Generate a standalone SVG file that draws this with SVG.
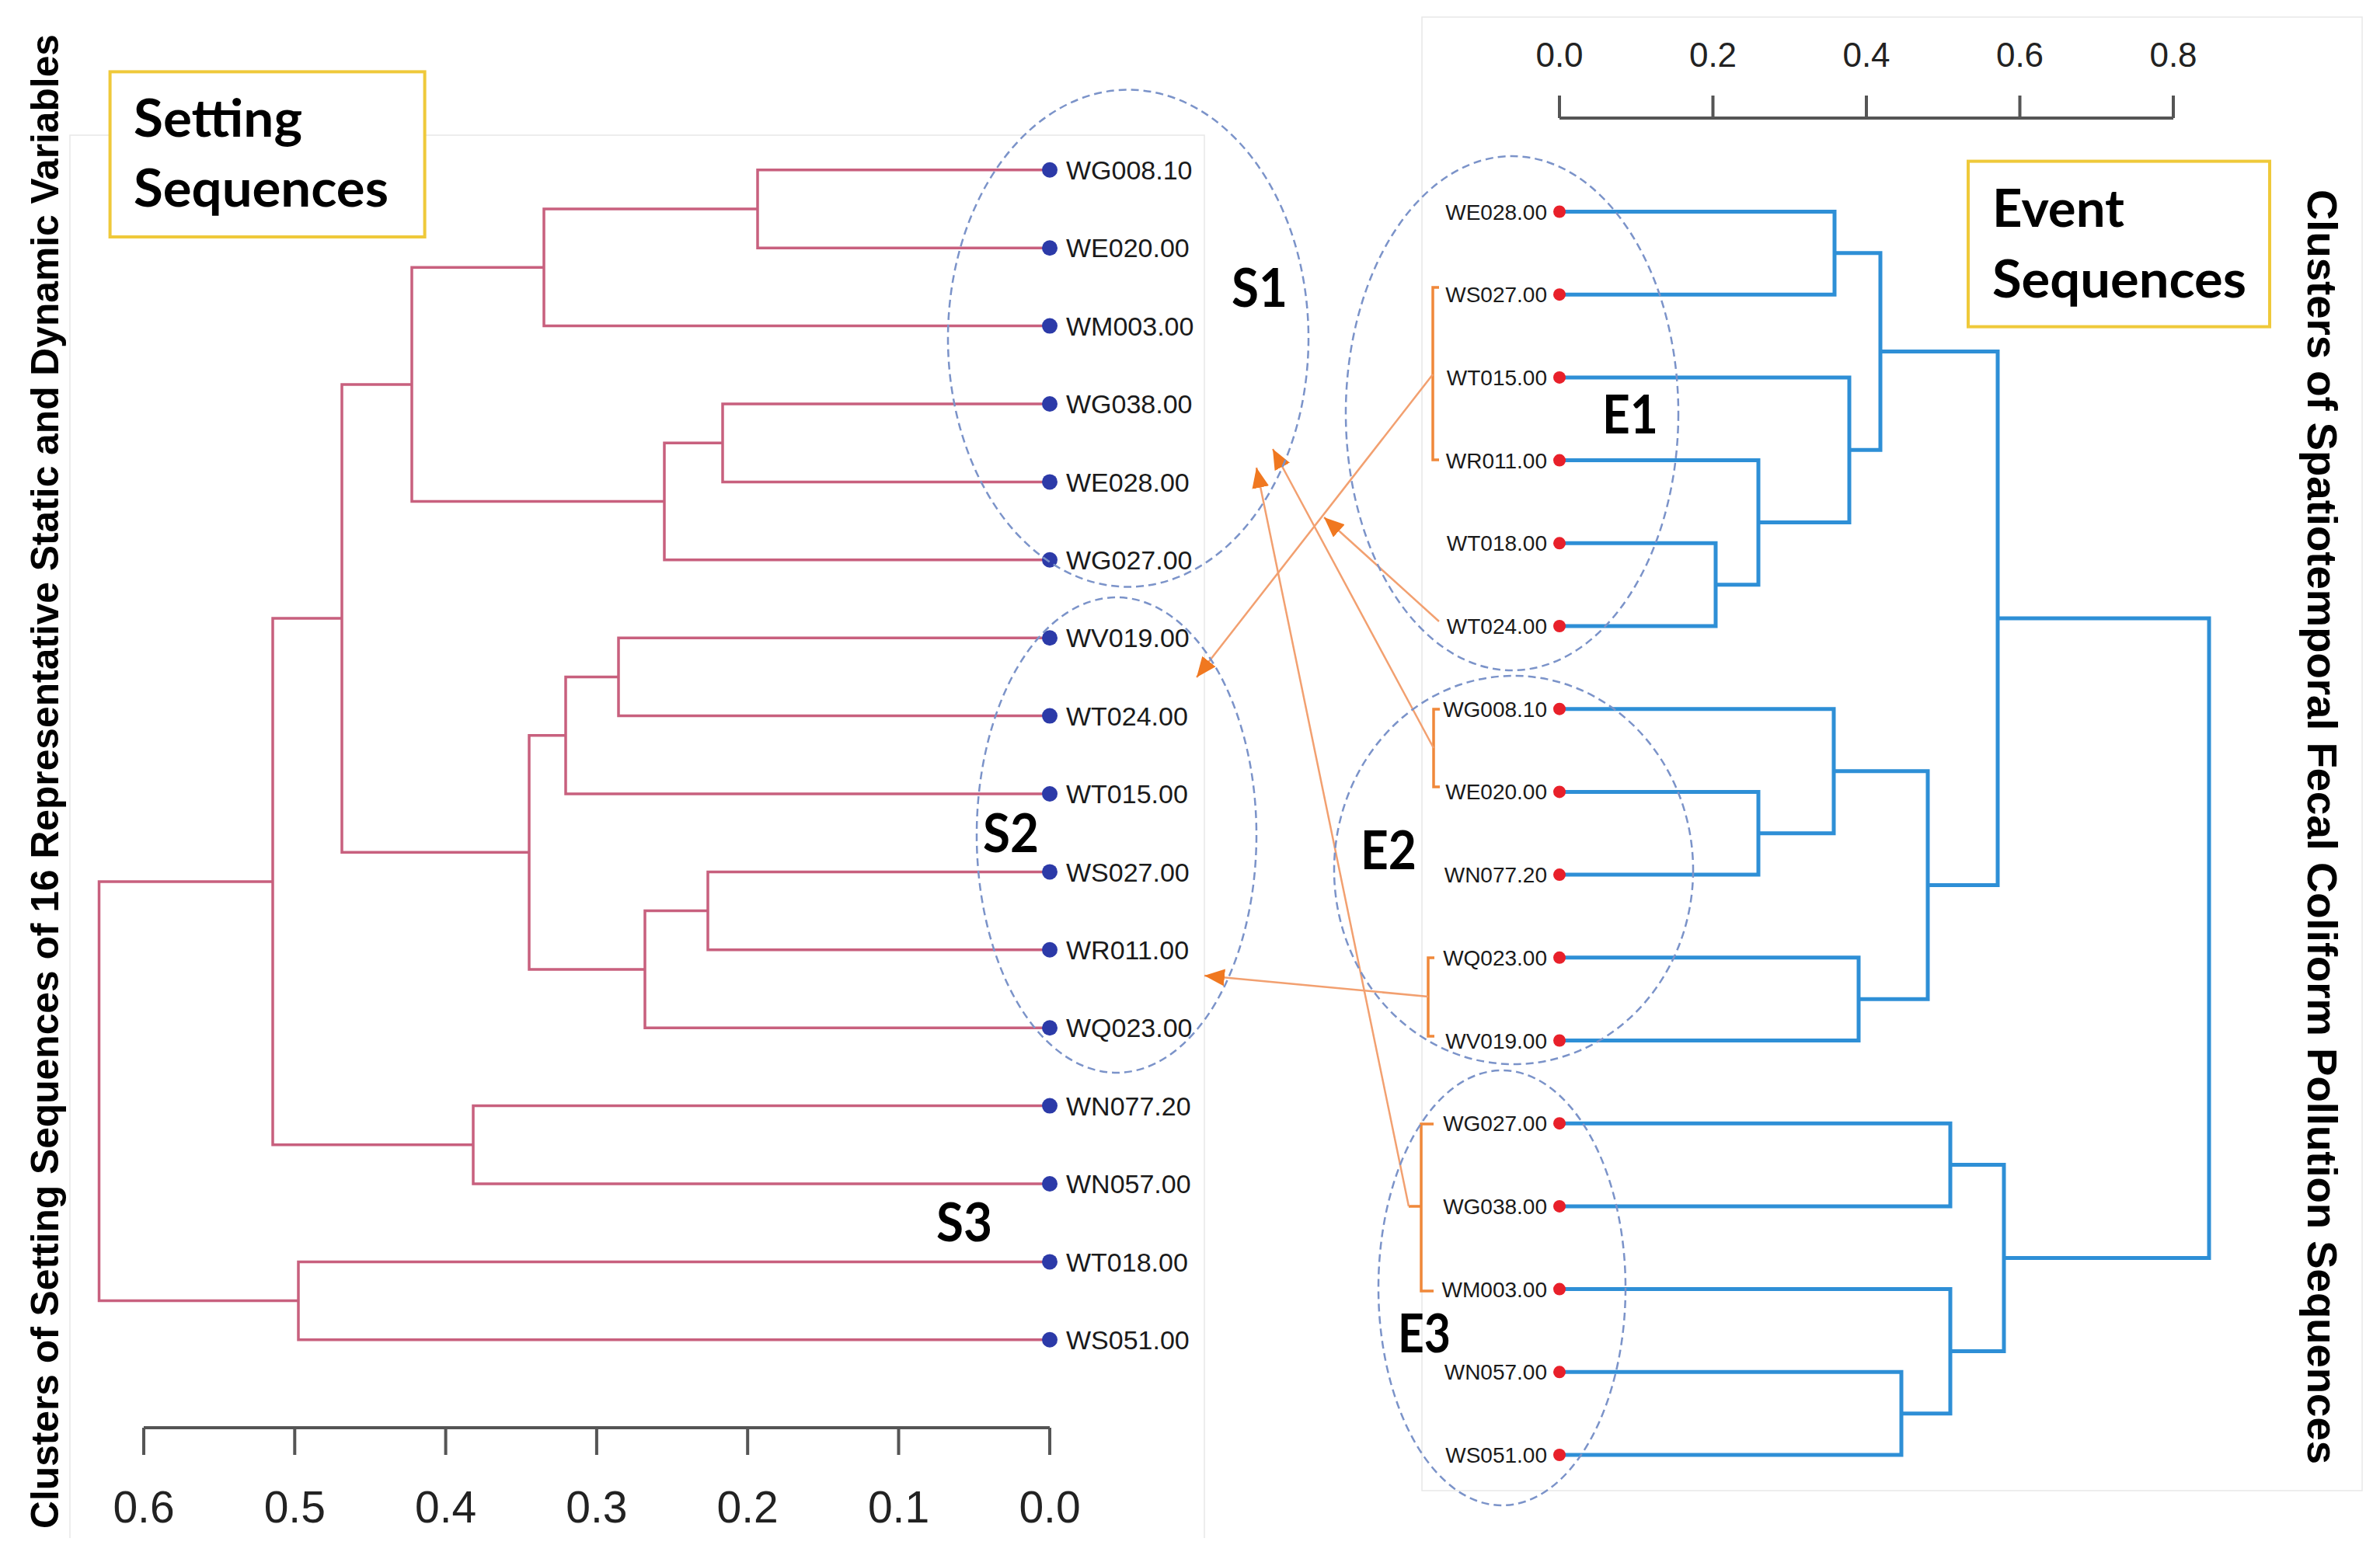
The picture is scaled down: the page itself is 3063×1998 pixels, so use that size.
<svg xmlns="http://www.w3.org/2000/svg" width="3063" height="1998" viewBox="0 0 3063 1998">
<style>
.bg{fill:#ffffff}
.frame{fill:none;stroke:#e8e8e8;stroke-width:1.5}
.pink{fill:none;stroke:#c8607e;stroke-width:3.5}
.blue{fill:none;stroke:#2e8fd6;stroke-width:5}
.axis{fill:none;stroke:#555555;stroke-width:4}
.bdot{fill:#2c3aa8}
.rdot{fill:#e8202a}
.llab{font-family:"Liberation Sans",Arial,sans-serif;font-size:34px;fill:#1a1a1a}
.rlab{font-family:"Liberation Sans",Arial,sans-serif;font-size:28px;fill:#1a1a1a;text-anchor:end}
.axl{font-family:"Liberation Sans",Arial,sans-serif;font-size:57px;fill:#222;text-anchor:middle}
.axr{font-family:"Liberation Sans",Arial,sans-serif;font-size:44px;fill:#222;text-anchor:middle}
.clu{fill:none;stroke:#7b93c9;stroke-width:2.5;stroke-dasharray:10 6}
.big{font-family:Lato,"Open Sans",sans-serif;font-weight:700;font-size:68px;fill:#000}
.boxt{font-family:Lato,"Open Sans",sans-serif;font-weight:700;font-size:66px;fill:#000}
.box{fill:#ffffff;stroke:#efc93a;stroke-width:4}
.title{font-family:"Liberation Sans",Arial,sans-serif;font-weight:700;fill:#000}
.brk{fill:none;stroke:#f0883a;stroke-width:3.5}
.arr{fill:none;stroke:#f2a070;stroke-width:2.5}
</style>
<defs>
<marker id="ah" markerUnits="userSpaceOnUse" markerWidth="28" markerHeight="24" refX="26" refY="11" orient="auto">
<path d="M0,0 L26,11 L0,22 z" fill="#f07820"/>
</marker>
</defs>
<rect class="bg" x="0" y="0" width="3063" height="1998"/>
<g id="frames">
<path class="frame" d="M90 1980 V174 H1550 V1980"/>
<rect class="frame" x="1830" y="22" width="1210" height="1897"/>
</g>

<g id="connectors">
<g id="left-dendrogram">
<path class="pink" d="M1351 218.8 H975 V319.2 H1351"/>
<path class="pink" d="M975 269 H700 V419.6 H1351"/>
<path class="pink" d="M1351 520 H930 V620.4 H1351"/>
<path class="pink" d="M930 570.2 H855 V720.8 H1351"/>
<path class="pink" d="M700 344.3 H530 V645.5 H855"/>
<path class="pink" d="M1351 821.2 H796 V921.6 H1351"/>
<path class="pink" d="M796 871.4 H728 V1022 H1351"/>
<path class="pink" d="M1351 1122.4 H911 V1222.8 H1351"/>
<path class="pink" d="M911 1172.6 H830 V1323.2 H1351"/>
<path class="pink" d="M728 946.7 H681 V1247.9 H830"/>
<path class="pink" d="M530 494.9 H440 V1097.3 H681"/>
<path class="pink" d="M1351 1423.6 H609 V1524 H1351"/>
<path class="pink" d="M440 796.1 H351 V1473.8 H609"/>
<path class="pink" d="M1351 1624.4 H384 V1724.8 H1351"/>
<path class="pink" d="M351 1135 H127.5 V1674.6 H384"/>
</g>
<g id="right-dendrogram">
<path class="blue" d="M2007 272.5 H2361 V379.2 H2007"/>
<path class="blue" d="M2007 699.3 H2208 V806 H2007"/>
<path class="blue" d="M2007 592.6 H2263 V752.65 H2208"/>
<path class="blue" d="M2007 485.9 H2380 V672.6 H2263"/>
<path class="blue" d="M2361 325.85 H2420 V579.25 H2380"/>
<path class="blue" d="M2007 1019.4 H2263 V1126.1 H2007"/>
<path class="blue" d="M2007 912.7 H2360 V1072.75 H2263"/>
<path class="blue" d="M2007 1232.8 H2392 V1339.5 H2007"/>
<path class="blue" d="M2360 992.7 H2481 V1286.15 H2392"/>
<path class="blue" d="M2420 452.55 H2571 V1139.4 H2481"/>
<path class="blue" d="M2007 1446.2 H2510 V1552.9 H2007"/>
<path class="blue" d="M2007 1766.3 H2447 V1873 H2007"/>
<path class="blue" d="M2007 1659.6 H2510 V1819.65 H2447"/>
<path class="blue" d="M2510 1499.55 H2579 V1739.6 H2510"/>
<path class="blue" d="M2571 796 H2843 V1619.6 H2579"/>
</g>
<g id="brackets">
<path class="brk" d="M1852 370 H1844 V592 H1852"/>
<path class="brk" d="M1853 913 H1845 V1013 H1853"/>
<path class="brk" d="M1846 1233 H1838 V1334 H1846"/>
<path class="brk" d="M1845 1447 H1829 V1662 H1845 M1813 1553 H1829"/>
</g>
<g id="arrows">
<path class="arr" d="M1844 482 L1540 872" marker-end="url(#ah)"/>
<path class="arr" d="M1845 963 L1638 578" marker-end="url(#ah)"/>
<path class="arr" d="M1813 1553 L1617 602" marker-end="url(#ah)"/>
<path class="arr" d="M1852 800 L1704 666" marker-end="url(#ah)"/>
<path class="arr" d="M1838 1283 L1550 1256" marker-end="url(#ah)"/>
</g>
</g>

<g id="left-axis">
<path class="axis" d="M185 1838 H1351 M185 1838 V1873 M379.3 1838 V1873 M573.6 1838 V1873 M767.9 1838 V1873 M962.2 1838 V1873 M1156.5 1838 V1873 M1351 1838 V1873"/>
<text class="axl" x="185" y="1960">0.6</text>
<text class="axl" x="379.3" y="1960">0.5</text>
<text class="axl" x="573.6" y="1960">0.4</text>
<text class="axl" x="767.9" y="1960">0.3</text>
<text class="axl" x="962.2" y="1960">0.2</text>
<text class="axl" x="1156.5" y="1960">0.1</text>
<text class="axl" x="1351" y="1960">0.0</text>
</g>
<g id="right-axis">
<path class="axis" d="M2007 152 H2797 M2007 123 V152 M2204.5 123 V152 M2402 123 V152 M2599.5 123 V152 M2797 123 V152"/>
<text class="axr" x="2007" y="86">0.0</text>
<text class="axr" x="2204.5" y="86">0.2</text>
<text class="axr" x="2402" y="86">0.4</text>
<text class="axr" x="2599.5" y="86">0.6</text>
<text class="axr" x="2797" y="86">0.8</text>
</g>

<g id="left-leaves">
<g id="s-WG008.10"><circle class="bdot" cx="1351" cy="218.8" r="10"/><text class="llab" x="1372" y="231">WG008.10</text></g>
<g id="s-WE020.00"><circle class="bdot" cx="1351" cy="319.2" r="10"/><text class="llab" x="1372" y="331.4">WE020.00</text></g>
<g id="s-WM003.00"><circle class="bdot" cx="1351" cy="419.6" r="10"/><text class="llab" x="1372" y="431.8">WM003.00</text></g>
<g id="s-WG038.00"><circle class="bdot" cx="1351" cy="520" r="10"/><text class="llab" x="1372" y="532.2">WG038.00</text></g>
<g id="s-WE028.00"><circle class="bdot" cx="1351" cy="620.4" r="10"/><text class="llab" x="1372" y="632.6">WE028.00</text></g>
<g id="s-WG027.00"><circle class="bdot" cx="1351" cy="720.8" r="10"/><text class="llab" x="1372" y="733">WG027.00</text></g>
<g id="s-WV019.00"><circle class="bdot" cx="1351" cy="821.2" r="10"/><text class="llab" x="1372" y="833.4">WV019.00</text></g>
<g id="s-WT024.00"><circle class="bdot" cx="1351" cy="921.6" r="10"/><text class="llab" x="1372" y="933.8">WT024.00</text></g>
<g id="s-WT015.00"><circle class="bdot" cx="1351" cy="1022" r="10"/><text class="llab" x="1372" y="1034.2">WT015.00</text></g>
<g id="s-WS027.00"><circle class="bdot" cx="1351" cy="1122.4" r="10"/><text class="llab" x="1372" y="1134.6">WS027.00</text></g>
<g id="s-WR011.00"><circle class="bdot" cx="1351" cy="1222.8" r="10"/><text class="llab" x="1372" y="1235">WR011.00</text></g>
<g id="s-WQ023.00"><circle class="bdot" cx="1351" cy="1323.2" r="10"/><text class="llab" x="1372" y="1335.4">WQ023.00</text></g>
<g id="s-WN077.20"><circle class="bdot" cx="1351" cy="1423.6" r="10"/><text class="llab" x="1372" y="1435.8">WN077.20</text></g>
<g id="s-WN057.00"><circle class="bdot" cx="1351" cy="1524" r="10"/><text class="llab" x="1372" y="1536.2">WN057.00</text></g>
<g id="s-WT018.00"><circle class="bdot" cx="1351" cy="1624.4" r="10"/><text class="llab" x="1372" y="1636.6">WT018.00</text></g>
<g id="s-WS051.00"><circle class="bdot" cx="1351" cy="1724.8" r="10"/><text class="llab" x="1372" y="1737">WS051.00</text></g>
</g>

<g id="right-leaves">
<g id="e-WE028.00"><circle class="rdot" cx="2007" cy="272.5" r="8"/><text class="rlab" x="1991" y="282.5">WE028.00</text></g>
<g id="e-WS027.00"><circle class="rdot" cx="2007" cy="379.2" r="8"/><text class="rlab" x="1991" y="389.2">WS027.00</text></g>
<g id="e-WT015.00"><circle class="rdot" cx="2007" cy="485.9" r="8"/><text class="rlab" x="1991" y="495.9">WT015.00</text></g>
<g id="e-WR011.00"><circle class="rdot" cx="2007" cy="592.6" r="8"/><text class="rlab" x="1991" y="602.6">WR011.00</text></g>
<g id="e-WT018.00"><circle class="rdot" cx="2007" cy="699.3" r="8"/><text class="rlab" x="1991" y="709.3">WT018.00</text></g>
<g id="e-WT024.00"><circle class="rdot" cx="2007" cy="806" r="8"/><text class="rlab" x="1991" y="816">WT024.00</text></g>
<g id="e-WG008.10"><circle class="rdot" cx="2007" cy="912.7" r="8"/><text class="rlab" x="1991" y="922.7">WG008.10</text></g>
<g id="e-WE020.00"><circle class="rdot" cx="2007" cy="1019.4" r="8"/><text class="rlab" x="1991" y="1029.4">WE020.00</text></g>
<g id="e-WN077.20"><circle class="rdot" cx="2007" cy="1126.1" r="8"/><text class="rlab" x="1991" y="1136.1">WN077.20</text></g>
<g id="e-WQ023.00"><circle class="rdot" cx="2007" cy="1232.8" r="8"/><text class="rlab" x="1991" y="1242.8">WQ023.00</text></g>
<g id="e-WV019.00"><circle class="rdot" cx="2007" cy="1339.5" r="8"/><text class="rlab" x="1991" y="1349.5">WV019.00</text></g>
<g id="e-WG027.00"><circle class="rdot" cx="2007" cy="1446.2" r="8"/><text class="rlab" x="1991" y="1456.2">WG027.00</text></g>
<g id="e-WG038.00"><circle class="rdot" cx="2007" cy="1552.9" r="8"/><text class="rlab" x="1991" y="1562.9">WG038.00</text></g>
<g id="e-WM003.00"><circle class="rdot" cx="2007" cy="1659.6" r="8"/><text class="rlab" x="1991" y="1669.6">WM003.00</text></g>
<g id="e-WN057.00"><circle class="rdot" cx="2007" cy="1766.3" r="8"/><text class="rlab" x="1991" y="1776.3">WN057.00</text></g>
<g id="e-WS051.00"><circle class="rdot" cx="2007" cy="1873" r="8"/><text class="rlab" x="1991" y="1883">WS051.00</text></g>
</g>

<g id="cluster-S1"><ellipse class="clu" cx="1452" cy="435.5" rx="232" ry="320"/><text class="big" x="1585" y="395" textLength="72" lengthAdjust="spacingAndGlyphs">S1</text></g>
<g id="cluster-S2"><ellipse class="clu" cx="1437" cy="1075" rx="180" ry="306"/><text class="big" x="1265" y="1097" textLength="72" lengthAdjust="spacingAndGlyphs">S2</text></g>
<g id="cluster-S3"><text class="big" x="1205" y="1598" textLength="72" lengthAdjust="spacingAndGlyphs">S3</text></g>
<g id="cluster-E1"><ellipse class="clu" cx="1946" cy="532" rx="214" ry="331"/><text class="big" x="2062" y="558" textLength="72" lengthAdjust="spacingAndGlyphs">E1</text></g>
<g id="cluster-E2"><ellipse class="clu" cx="1948" cy="1120" rx="231" ry="250"/><text class="big" x="1751" y="1119" textLength="72" lengthAdjust="spacingAndGlyphs">E2</text></g>
<g id="cluster-E3"><ellipse class="clu" cx="1933" cy="1658" rx="159" ry="280"/><text class="big" x="1799" y="1741" textLength="68" lengthAdjust="spacingAndGlyphs">E3</text></g>

<g id="box-setting">
<rect class="box" x="141.6" y="92.4" width="405" height="212.6"/>
<text class="boxt" x="172" y="176" textLength="217" lengthAdjust="spacingAndGlyphs">Setting</text>
<text class="boxt" x="172" y="266" textLength="328" lengthAdjust="spacingAndGlyphs">Sequences</text>
</g>
<g id="box-event">
<rect class="box" x="2533" y="207.6" width="388" height="213"/>
<text class="boxt" x="2564" y="292" textLength="170" lengthAdjust="spacingAndGlyphs">Event</text>
<text class="boxt" x="2564" y="383" textLength="327" lengthAdjust="spacingAndGlyphs">Sequences</text>
</g>

<g id="title-left">
<text class="title" font-size="49.5" transform="translate(75,1968) rotate(-90)" x="0" y="0" textLength="1924" lengthAdjust="spacingAndGlyphs">Clusters of Setting Sequences of 16 Representative Static and Dynamic Variables</text>
</g>
<g id="title-right">
<text class="title" font-size="54.5" transform="translate(2970,244) rotate(90)" x="0" y="0" textLength="1641" lengthAdjust="spacingAndGlyphs">Clusters of Spatiotemporal Fecal Coliform Pollution Sequences</text>
</g>
</svg>
